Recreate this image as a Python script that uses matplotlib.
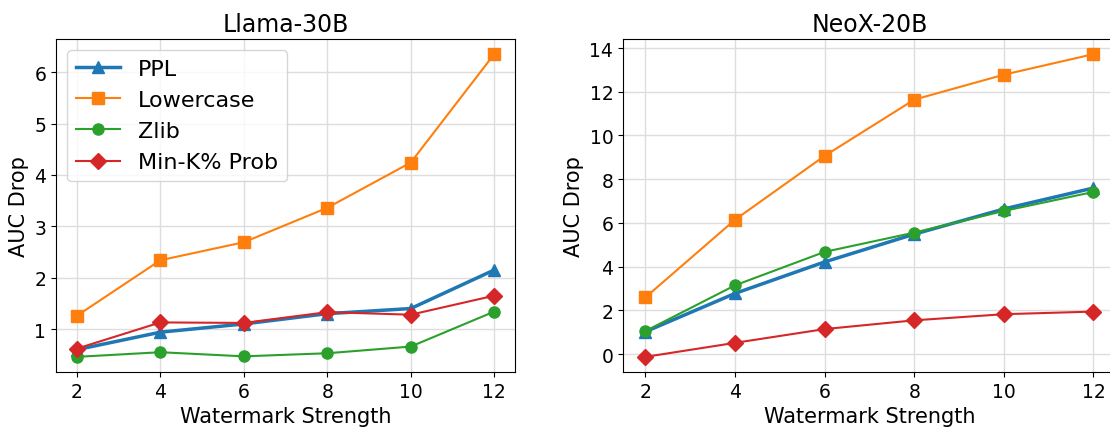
import numpy as np
import matplotlib.pyplot as plt

# Data
strength = [2, 4, 6, 8, 10, 12]

llama_ppl = [0.60, 0.94, 1.10, 1.30, 1.40, 2.15]
llama_lower = [1.26, 2.34, 2.69, 3.36, 4.24, 6.35]
llama_zlib = [0.46, 0.55, 0.47, 0.53, 0.66, 1.34]
llama_mink = [0.62, 1.13, 1.12, 1.33, 1.28, 1.65]

neox_ppl = [1.03, 2.78, 4.22, 5.49, 6.64, 7.60]
neox_lower = [2.60, 6.15, 9.07, 11.64, 12.78, 13.72]
neox_zlib = [1.06, 3.15, 4.68, 5.56, 6.55, 7.42]
neox_mink = [-0.12, 0.52, 1.15, 1.55, 1.83, 1.95]

fig = plt.figure(figsize=(11.1, 4.31), dpi=100)
ax1 = fig.add_axes([0.0505, 0.1346, 0.4135, 0.7726])
ax2 = fig.add_axes([0.5613, 0.1346, 0.4440, 0.7726])
axes = [ax1, ax2]

panels = [
    ("Llama-30B", [llama_ppl, llama_lower, llama_zlib, llama_mink]),
    ("NeoX-20B", [neox_ppl, neox_lower, neox_zlib, neox_mink]),
]
names = ["PPL", "Lowercase", "Zlib", "Min-K% Prob"]
markers = ["^", "s", "o", "D"]
colors = ["#1f77b4", "#ff7f0e", "#2ca02c", "#d62728"]
widths = [2.5, 1.5, 1.5, 1.5]

for ax, (title, series) in zip(axes, panels):
    for vals, name, m, c, lw in zip(series, names, markers, colors, widths):
        ax.plot(strength, vals, marker=m, color=c, lw=lw, markersize=8, label=name)
    ax.set_title(title, fontsize=17)
    ax.set_xlabel("Watermark Strength", fontsize=15)
    ax.set_ylabel("AUC Drop", fontsize=15)
    ax.set_xticks(strength)
    ax.tick_params(labelsize=13.5)
    ax.grid(True, color="#dddddd", lw=1)

ax2.set_yticks(range(0, 15, 2))
ax1.legend(loc="upper left", fontsize=16)

plt.savefig("out.png")
